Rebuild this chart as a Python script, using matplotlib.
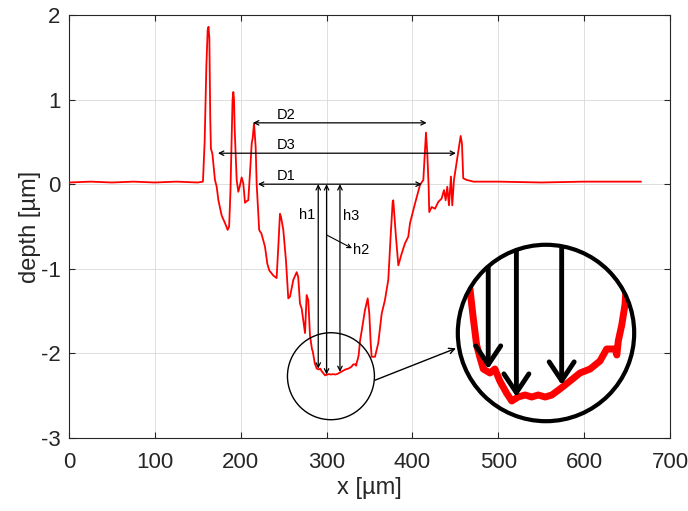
import numpy as np
import matplotlib
matplotlib.use('Agg')
import matplotlib.pyplot as plt
from matplotlib.patches import Circle, Ellipse

plt.rcParams['font.family'] = ['Liberation Sans', 'DejaVu Sans']
plt.rcParams['axes.unicode_minus'] = False

# surface profile (x in um, depth in um)
x_um = np.array([
    0, 25, 50, 75, 100, 125, 150, 156,
    158, 160, 161.5, 162.5, 163.5, 164.5, 165.3, 167, 168.5, 170,
    172, 174, 177.8, 181.7, 184.8, 186.5, 188, 189.5, 190.5, 191.4,
    192.2, 193, 195.3, 197.2, 199, 201.1, 203, 205, 207, 208.8,
    210.8, 212.8, 214, 215.5, 217.4,
    218.6, 221.5, 222.5, 224, 228.3, 231, 233.3, 238, 241.8, 244,
    245.7, 247, 249.6, 252.7, 255.4, 257.4, 261.3, 265.2, 267, 269,
    271, 274.9, 276.8, 278.7, 280.7, 283.0,
    284.0, 285.1, 286.3, 287.4, 288.6, 290.9, 292.6, 294.3, 296.6,
    298.4, 300.6, 303.0, 305.3, 307.5, 309.9, 312.2, 315.0, 318.5,
    321.9, 325.4, 328.8, 331.1, 334.0, 334.6, 335.1, 336.3, 337.4,
    339, 341, 344.7, 347.9, 349.8, 351.4, 352.5, 356.4, 360.2, 364.2,
    368, 371.9, 374.6, 377, 377.7, 380.8, 383.6, 387.5, 391.3, 395.2,
    397.2, 403, 408.8, 412.7, 414.2, 415.8, 417.3, 418.9, 419.6, 422.4,
    426.3, 430.1, 434, 436.8, 438.7, 440.6, 442.6, 444.9, 446.4, 448.4,
    451.5, 454.2, 456.2, 457.7, 459.2, 463.2, 471, 500, 550, 600, 650, 666,
])
depth = np.array([
    0.02, 0.03, 0.02, 0.03, 0.02, 0.03, 0.02, 0.03,
    0.5, 1.4, 1.82, 1.86, 1.72, 0.8, 0.42, 0.36, 0.2, 0.05,
    -0.03, -0.19, -0.37, -0.46, -0.54, -0.5, -0.1, 0.55, 1.0, 1.09,
    1.0, 0.64, 0.05, -0.09, -0.02, 0.08, 0.01, -0.22, -0.2, -0.19,
    0.13, 0.48, 0.55, 0.72, 0.44,
    0.0, -0.54, -0.56, -0.58, -0.74, -0.94, -1.02, -1.08, -1.11, -0.7,
    -0.35, -0.39, -0.54, -0.9, -1.35, -1.33, -1.13, -1.04, -1.1, -1.41,
    -1.47, -1.76, -1.31, -1.37, -1.79, -1.95,
    -1.98, -2.05, -2.12, -2.15, -2.18, -2.19, -2.18, -2.21, -2.24,
    -2.26, -2.25, -2.245, -2.25, -2.245, -2.25, -2.245, -2.23, -2.21,
    -2.19, -2.18, -2.16, -2.13, -2.13, -2.145, -2.11, -2.07, -2.02,
    -1.85, -1.73, -1.49, -1.35, -1.53, -1.88, -2.04, -2.04, -1.88, -1.53,
    -1.37, -1.13, -0.62, -0.21, -0.19, -0.62, -0.96, -0.82, -0.7, -0.62,
    -0.46, -0.23, -0.01, 0.05, 0.32, 0.61, 0.37, -0.03, -0.33, -0.27,
    -0.29, -0.21, -0.17, -0.07, -0.19, -0.03, -0.25, 0.09, -0.25, 0.05,
    0.26, 0.44, 0.57, 0.48, 0.07, 0.05, 0.03, 0.03, 0.02, 0.03, 0.03, 0.03,
])

# width markers D1..D3
d_labels = ['D1', 'D2', 'D3']
d_left = [220.1, 214.3, 173.5]
d_right = [410.8, 416.6, 450.7]
d_level = [0.0, 0.725, 0.366]
d_text_x = [252.7, 252.4, 253.1]
d_text_y = [0.095, 0.82, 0.46]

# depth markers h1..h3
h_labels = ['h1', 'h2', 'h3']
h_x = [290.3, 300.0, 315.6]
h_bottom = [-2.18, -2.25, -2.22]
h_text_x = [277.2, 340.0, 329.0]
h_text_y = [-0.37, -0.78, -0.38]

fig = plt.figure(figsize=(6.88, 5.11), dpi=100)
ax = fig.add_axes([0.1003, 0.1429, 0.8735, 0.8278])

ax.plot(x_um, depth, color='red', lw=1.3, zorder=3)

ax.set_xlim(0, 700)
ax.set_ylim(-3, 2)
ax.set_xticks(np.arange(0, 701, 100))
ax.set_yticks(np.arange(-3, 3, 1))
ax.grid(True, color='#dedede', lw=0.7)
ax.set_axisbelow(True)
for s in ax.spines.values():
    s.set_color('#262626')
    s.set_linewidth(0.8)
ax.tick_params(direction='in', top=True, right=True, length=4, width=0.8,
               color='#262626', labelcolor='#262626', labelsize=16)
ax.tick_params(axis='x', pad=10)
ax.tick_params(axis='y', pad=6)
ax.set_xlabel('x [µm]', fontsize=17, color='#262626', labelpad=3)
ax.set_ylabel('depth [µm]', fontsize=17, color='#262626', labelpad=0)

thin = dict(arrowstyle='<->', lw=0.9, color='black', shrinkA=0, shrinkB=0,
            mutation_scale=8)
for lab, x0, x1, y, tx, ty in zip(d_labels, d_left, d_right, d_level,
                                  d_text_x, d_text_y):
    ax.annotate('', xy=(x1, y), xytext=(x0, y), arrowprops=thin, zorder=4)
    ax.text(tx, ty, lab, ha='center', va='center', fontsize=10.5)

for lab, hx, hb, tx, ty in zip(h_labels, h_x, h_bottom, h_text_x, h_text_y):
    ax.annotate('', xy=(hx, hb), xytext=(hx, 0.0), arrowprops=thin, zorder=4)
    ax.text(tx, ty, lab, ha='center', va='center', fontsize=10.5)

# leader for h2
ax.annotate('', xy=(329.6, -0.757), xytext=(h_x[1], -0.60),
            arrowprops=dict(arrowstyle='->', lw=0.8, color='black',
                            shrinkA=0, shrinkB=0, mutation_scale=7))

# small circle around the bottom of the crater
ax.add_patch(Ellipse((305.1, -2.27), 101.3, 1.028, fill=False,
                     ec='black', lw=1.0, zorder=4))
ax.annotate('', xy=(450.7, -1.94), xytext=(356.4, -2.317),
            arrowprops=dict(arrowstyle='->', lw=1.0, color='black',
                            shrinkA=0, shrinkB=0, mutation_scale=10))

# magnified view
ax_in = fig.add_axes([0.6628, 0.1722, 0.2616, 0.3523])
ax_in.set_xlim(279.2, 341.2)
ax_in.set_ylim(-2.315, -1.865)
ax_in.axis('off')
circ = Circle((0.5, 0.5), 0.49, transform=ax_in.transAxes, fill=False,
              ec='black', lw=3, clip_on=False, zorder=5)
ax_in.add_patch(circ)
line, = ax_in.plot(x_um, depth, color='red', lw=5, zorder=3)
line.set_clip_path(circ)
for hx, hb in zip(h_x, h_bottom):
    ann = ax_in.annotate('', xy=(hx, hb), xytext=(hx, -1.6),
                         arrowprops=dict(arrowstyle='->,head_length=0.45,head_width=0.3',
                                         lw=3.5, color='black', shrinkA=0,
                                         shrinkB=0, mutation_scale=30),
                         annotation_clip=False, zorder=4)
    ann.arrow_patch.set_clip_path(circ)

fig.savefig('out.png', dpi=100)
